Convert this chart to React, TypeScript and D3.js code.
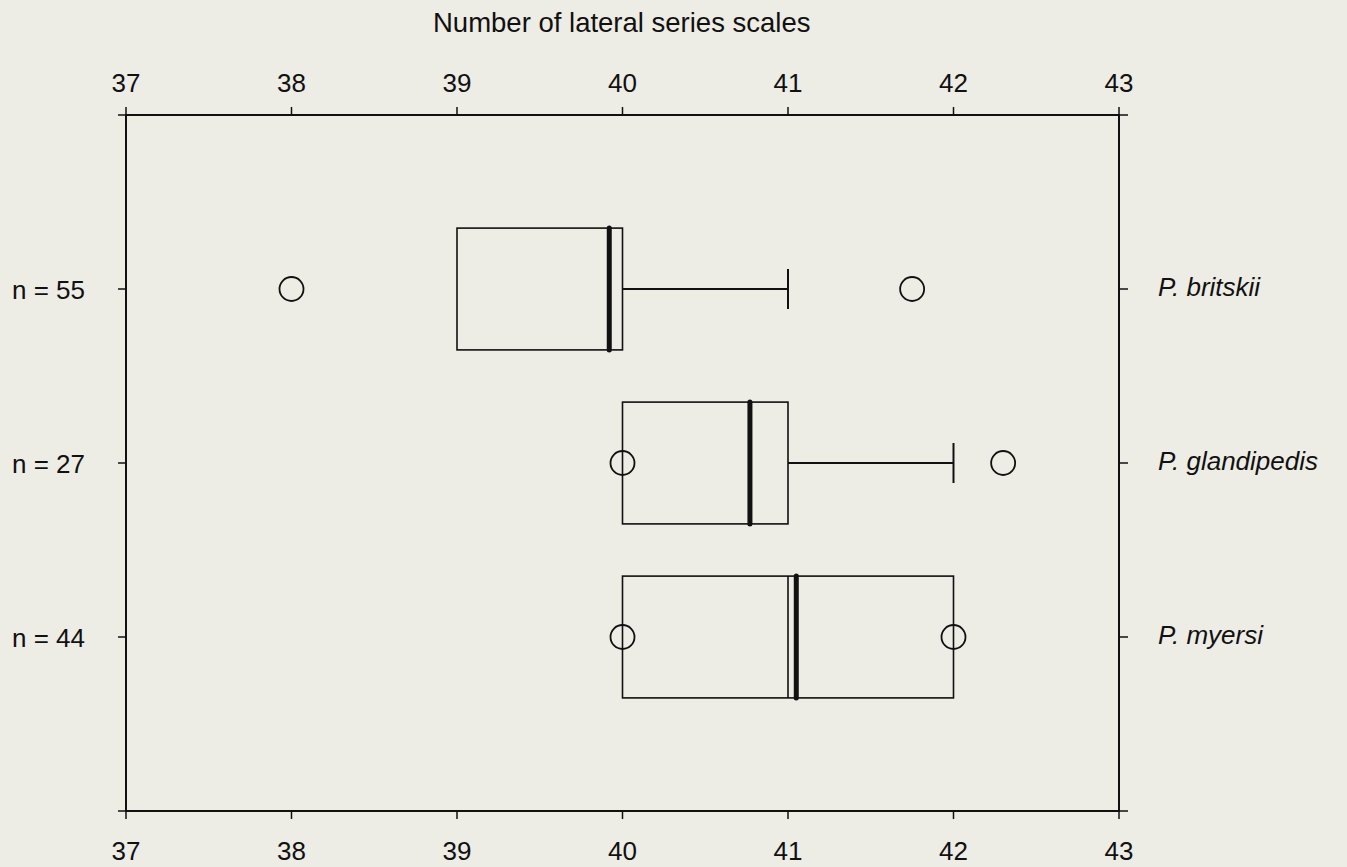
import React from "react";
import * as d3 from "d3";

// Species (top to bottom) and their sample sizes
const species = ["P. britskii", "P. glandipedis", "P. myersi"];
const sampleLabels = ["n = 55", "n = 27", "n = 44"];

// Box statistics: quartiles, median, whisker ends
const q1 = [39, 40, 40];
const q3 = [40, 41, 42];
const medians = [39.92, 40.77, 41.05];
const innerLines = [null, null, 41];
const whiskerLow = [39, 40, 40];
const whiskerHigh = [41, 42, 42];

// Outlying observations for each species
const outliers: number[][] = [
  [38, 41.75],
  [40, 42.3],
  [40, 42],
];

const xTicks = [37, 38, 39, 40, 41, 42, 43];

const W = 1347;
const H = 867;
const left = 126;
const right = 1119;
const top = 115;
const bottom = 811;

export default function App() {
  const x = d3.scaleLinear().domain([37, 43]).range([left, right]);
  const y = d3.scaleLinear().domain([0, 4]).range([top, bottom]);
  const boxHalf = 0.35;
  const capHalf = 0.115;
  const font = "Liberation Sans, Arial, sans-serif";
  const ink = "#111";

  return (
    <svg
      width={W}
      height={H}
      style={{ position: "absolute", left: 0, top: 0, background: "#edece5" }}
      fontFamily={font}
    >
      <rect x={0} y={0} width={W} height={H} fill="#edece5" />
      <text x={433} y={32} fontSize={27.5} fill={ink}>
        Number of lateral series scales
      </text>

      {/* frame */}
      <rect x={left} y={top} width={right - left} height={bottom - top} fill="none" stroke={ink} strokeWidth={2} />

      {/* x ticks top and bottom */}
      {xTicks.map((t) => (
        <g key={t}>
          <line x1={x(t)} x2={x(t)} y1={top} y2={top - 8} stroke={ink} strokeWidth={1.5} />
          <line x1={x(t)} x2={x(t)} y1={bottom} y2={bottom + 8} stroke={ink} strokeWidth={1.5} />
          <text x={x(t)} y={92} textAnchor="middle" fontSize={26} fill={ink}>
            {t}
          </text>
          <text x={x(t)} y={860} textAnchor="middle" fontSize={26} fill={ink}>
            {t}
          </text>
        </g>
      ))}

      {/* y ticks left and right */}
      {[0, 1, 2, 3, 4].map((v) => (
        <g key={v}>
          <line x1={left} x2={left - 8} y1={y(v)} y2={y(v)} stroke={ink} strokeWidth={1.5} />
          <line x1={right} x2={right + 9} y1={y(v)} y2={y(v)} stroke={ink} strokeWidth={1.5} />
        </g>
      ))}

      {species.map((s, i) => {
        const cy = y(i + 1);
        return (
          <g key={s}>
            <text x={85} y={cy + 10} textAnchor="end" fontSize={26} fill={ink}>
              {sampleLabels[i]}
            </text>
            <text x={1158} y={cy + 7} fontSize={26} fontStyle="italic" fill={ink}>
              {s}
            </text>
            {/* whiskers */}
            {whiskerHigh[i] > q3[i] && (
              <g>
                <line x1={x(q3[i])} x2={x(whiskerHigh[i])} y1={cy} y2={cy} stroke={ink} strokeWidth={2} />
                <line
                  x1={x(whiskerHigh[i])}
                  x2={x(whiskerHigh[i])}
                  y1={y(i + 1 - capHalf)}
                  y2={y(i + 1 + capHalf)}
                  stroke={ink}
                  strokeWidth={2}
                />
              </g>
            )}
            {whiskerLow[i] < q1[i] && (
              <line x1={x(whiskerLow[i])} x2={x(q1[i])} y1={cy} y2={cy} stroke={ink} strokeWidth={2} />
            )}
            {/* box */}
            <rect
              x={x(q1[i])}
              y={y(i + 1 - boxHalf)}
              width={x(q3[i]) - x(q1[i])}
              height={y(i + 1 + boxHalf) - y(i + 1 - boxHalf)}
              fill="none"
              stroke={ink}
              strokeWidth={1.6}
            />
            {innerLines[i] !== null && (
              <line
                x1={x(innerLines[i] as number)}
                x2={x(innerLines[i] as number)}
                y1={y(i + 1 - boxHalf)}
                y2={y(i + 1 + boxHalf)}
                stroke={ink}
                strokeWidth={1.6}
              />
            )}
            {/* median */}
            <line
              x1={x(medians[i])}
              x2={x(medians[i])}
              y1={y(i + 1 - boxHalf)}
              y2={y(i + 1 + boxHalf)}
              stroke={ink}
              strokeWidth={5}
              strokeLinecap="round"
            />
            {/* outliers */}
            {outliers[i].map((o, k) => (
              <circle key={k} cx={x(o)} cy={cy} r={12} fill="none" stroke={ink} strokeWidth={1.8} />
            ))}
          </g>
        );
      })}
    </svg>
  );
}
